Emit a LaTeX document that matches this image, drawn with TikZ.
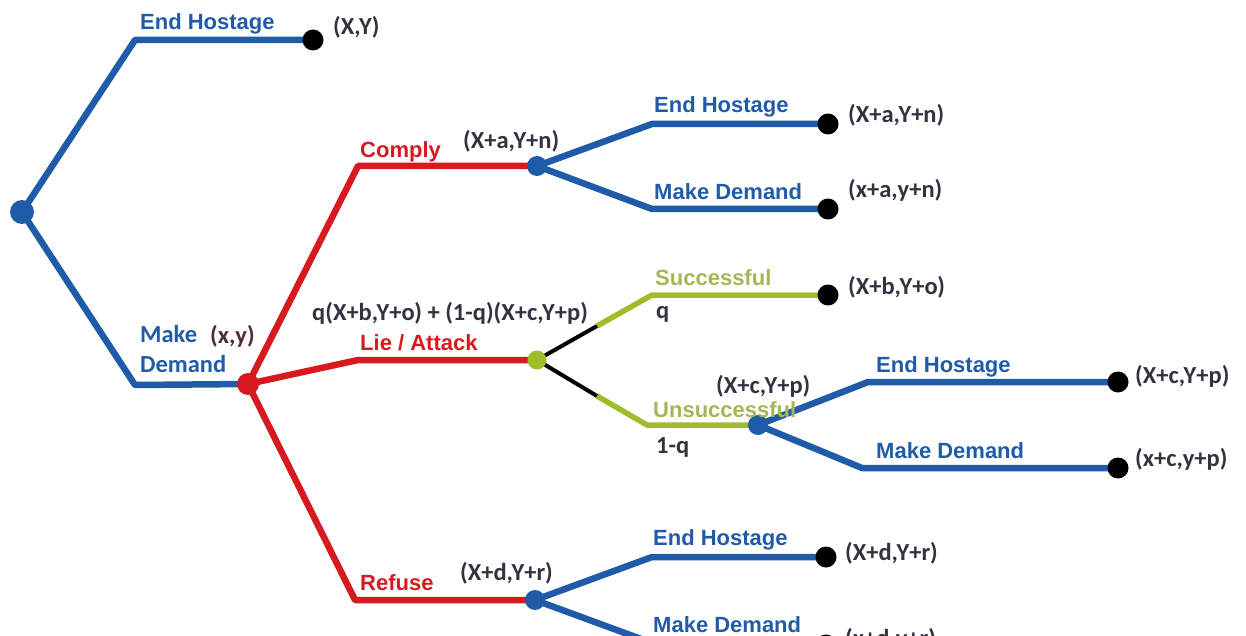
\documentclass[tikz,border=0pt]{standalone}
\usepackage{fontspec}
\setmainfont{Carlito}
\newfontfamily\arialfont{Liberation Sans}
\usetikzlibrary{backgrounds}

\definecolor{treeblue}{RGB}{31,91,168}
\definecolor{treered}{RGB}{214,26,32}
\definecolor{treegreen}{RGB}{157,189,43}
\definecolor{paygray}{RGB}{55,48,64}
\definecolor{paybrown}{RGB}{80,45,45}
\definecolor{chancetext}{RGB}{166,182,84}

\tikzset{
  edge/.style={line width=6.5pt, line join=round},
  blueedge/.style={edge, draw=treeblue},
  rededge/.style={edge, draw=treered},
  greenedge/.style={edge, line width=5.5pt, draw=treegreen},
  blackedge/.style={line width=4pt, draw=black},
  dot/.style={circle, inner sep=0pt, minimum size=#1},
  bluedot/.style={dot=20pt, fill=treeblue},
  reddot/.style={dot=22pt, fill=treered},
  greendot/.style={dot=19pt, fill=treegreen},
  leafdot/.style={dot=21pt, fill=black},
  armlabel/.style={inner sep=0pt, anchor=base west,
    font=\arialfont\bfseries\fontsize{22}{26}\selectfont},
  paylabel/.style={inner sep=0pt, anchor=base west, text=paygray,
    font=\bfseries\fontsize{24.5}{28}\selectfont},
}

\begin{document}
\begin{tikzpicture}[x=1pt, y=-1pt]
  \useasboundingbox (0,0) rectangle (1246,636);
  \clip (0,0) rectangle (1246,636);

  % decision and chance points
  \node[bluedot, minimum size=24pt] (root) at (22,212) {};
  \node[reddot] (demand) at (248,384) {};
  \node[bluedot] (comply) at (537,166) {};
  \node[greendot] (lie) at (537,360) {};
  \node[bluedot] (refuse) at (535,600) {};
  \node[bluedot] (fail) at (758,425) {};

  % terminal points
  \node[leafdot] (endXY) at (313,40) {};
  \node[leafdot] (compEnd) at (828,124) {};
  \node[leafdot] (compDem) at (828,209) {};
  \node[leafdot] (success) at (828,295) {};
  \node[leafdot] (failEnd) at (1118,382) {};
  \node[leafdot] (failDem) at (1118,468) {};
  \node[leafdot] (refEnd) at (826,557) {};
  \node[leafdot] (refDem) at (826,645) {};

  % elbows of the branches
  \coordinate (kEnd) at (135,40);
  \coordinate (kDemand) at (135,385);
  \coordinate (kComply) at (358,166);
  \coordinate (kLie) at (358,360);
  \coordinate (kRefuse) at (355,600);
  \coordinate (kCompEnd) at (652,124);
  \coordinate (kCompDem) at (652,209);
  \coordinate (jSucc) at (597,326);
  \coordinate (kSucc) at (652,295);
  \coordinate (jFail) at (597,396);
  \coordinate (kFail) at (647,425);
  \coordinate (kFailEnd) at (868,382);
  \coordinate (kFailDem) at (862,468);
  \coordinate (kRefEnd) at (652,557);
  \coordinate (kRefDem) at (652,643);

  \begin{scope}[on background layer]
    \draw[blueedge] (root.center) -- (kEnd) -- (endXY.center);
    \draw[blueedge] (root.center) -- (kDemand) -- (demand.center);
    \draw[rededge] (demand.center) -- (kComply) -- (comply.center);
    \draw[rededge] (demand.center) -- (kLie) -- (lie.center);
    \draw[rededge] (demand.center) -- (kRefuse) -- (refuse.center);
    \draw[blueedge] (comply.center) -- (kCompEnd) -- (compEnd.center);
    \draw[blueedge] (comply.center) -- (kCompDem) -- (compDem.center);
    \draw[greenedge] (jSucc) -- (kSucc) -- (success.center);
    \draw[greenedge] (jFail) -- (kFail) -- (fail.center);
    \draw[blackedge] (lie.center) -- (jSucc);
    \draw[blackedge] (lie.center) -- (jFail);
    \draw[blueedge] (fail.center) -- (kFailEnd) -- (failEnd.center);
    \draw[blueedge] (fail.center) -- (kFailDem) -- (failDem.center);
    \draw[blueedge] (refuse.center) -- (kRefEnd) -- (refEnd.center);
    \draw[blueedge] (refuse.center) -- (kRefDem) -- (refDem.center);
  \end{scope}

  % action labels
  \node[armlabel, text=treeblue] (lEnd) at (140,30) {End Hostage};
  \node[paylabel, text=treeblue] (lMake) at (140,342) {Make};
  \node[paylabel, text=treeblue] (lDem) at (140,372) {Demand};
  \node[armlabel, text=treered] (lComply) at (360,158) {Comply};
  \node[armlabel, text=treered] (lLie) at (360,350) {Lie / Attack};
  \node[armlabel, text=treered] (lRefuse) at (360,590) {Refuse};
  \node[armlabel, text=treeblue] (lCompEnd) at (654,113) {End Hostage};
  \node[armlabel, text=treeblue] (lCompDem) at (654,200) {Make Demand};
  \node[armlabel, text=chancetext] (lSucc) at (655,285) {Successful};
  \node[armlabel, text=chancetext] (lFail) at (653,417) {Unsuccessful};
  \node[armlabel, text=treeblue] (lFailEnd) at (876,372) {End Hostage};
  \node[armlabel, text=treeblue] (lFailDem) at (876,458) {Make Demand};
  \node[armlabel, text=treeblue] (lRefEnd) at (653,545) {End Hostage};
  \node[armlabel, text=treeblue] (lRefDem) at (653,632) {Make Demand};

  % probabilities
  \node[paylabel] (pq) at (656,318) {q};
  \node[paylabel] (p1q) at (656,453) {1-q};

  % payoffs
  \node[paylabel] (vXY) at (333,35) {(X,Y)};
  \node[paylabel, text=paybrown] (vxy) at (210,343) {(x,y)};
  \node[paylabel] (vComply) at (463,149) {(X+a,Y+n)};
  \node[paylabel] (vLie) at (312,320) {q(X+b,Y+o) + (1-q)(X+c,Y+p)};
  \node[paylabel] (vRefuse) at (460,580) {(X+d,Y+r)};
  \node[paylabel] (vCompEnd) at (848,123) {(X+a,Y+n)};
  \node[paylabel] (vCompDem) at (848,198) {(x+a,y+n)};
  \node[paylabel] (vSucc) at (848,294) {(X+b,Y+o)};
  \node[paylabel] (vFail) at (716,393) {(X+c,Y+p)};
  \node[paylabel] (vFailEnd) at (1135,383) {(X+c,Y+p)};
  \node[paylabel] (vFailDem) at (1135,466) {(x+c,y+p)};
  \node[paylabel] (vRefEnd) at (845,560) {(X+d,Y+r)};
  \node[paylabel] (vRefDem) at (845,646) {(x+d,y+r)};
\end{tikzpicture}
\end{document}
